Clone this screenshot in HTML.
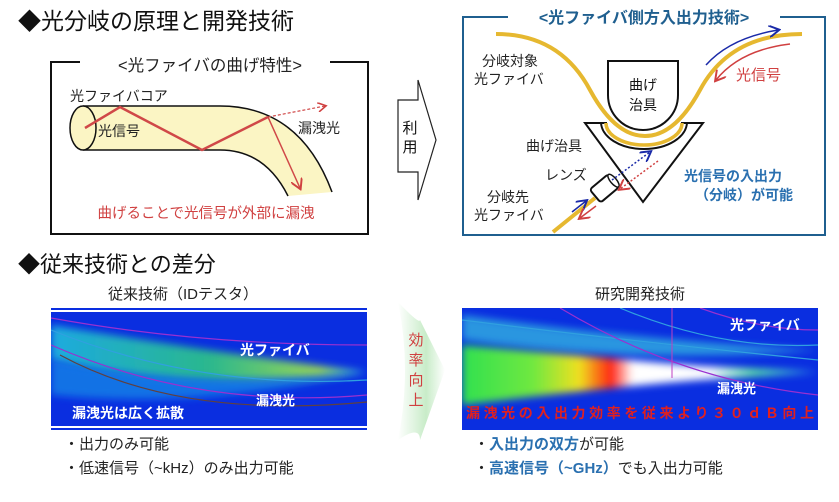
<!DOCTYPE html>
<html><head><meta charset="utf-8"><style>
html,body{margin:0;padding:0;background:#fff;}
svg{display:block;font-family:"Liberation Sans","Noto Sans CJK JP",sans-serif;}
</style></head><body>
<svg width="839" height="502" viewBox="0 0 839 502" xmlns="http://www.w3.org/2000/svg">
<defs>
<marker id="ar" markerWidth="8" markerHeight="8" refX="6" refY="4" orient="auto"><path d="M0,0 L7,4 L0,8" fill="none" stroke="#d04040" stroke-width="1.3"/></marker>
<marker id="ab" markerWidth="8" markerHeight="8" refX="6" refY="4" orient="auto"><path d="M0,0 L7,4 L0,8" fill="none" stroke="#1a2aa8" stroke-width="1.3"/></marker>
<linearGradient id="w1" x1="0" x2="1"><stop offset="0" stop-color="#20c0e0"/><stop offset="0.5" stop-color="#30d080"/><stop offset="0.85" stop-color="#b0f040"/><stop offset="1" stop-color="#40e0f0"/></linearGradient>
<linearGradient id="w2" x1="0" x2="1"><stop offset="0" stop-color="#30e050"/><stop offset="0.2" stop-color="#70e840"/><stop offset="0.33" stop-color="#f0e020"/><stop offset="0.42" stop-color="#ff2010"/><stop offset="0.48" stop-color="#ffffff"/><stop offset="0.7" stop-color="#ffffff"/><stop offset="0.82" stop-color="#60f0a0"/><stop offset="1" stop-color="#40d0f0"/></linearGradient>
<linearGradient id="ga" x1="0" x2="1"><stop offset="0" stop-color="#fff"/><stop offset="0.6" stop-color="#c8ecc8"/><stop offset="1" stop-color="#fff"/></linearGradient>
<filter id="bl" x="-10%" y="-50%" width="120%" height="200%"><feGaussianBlur stdDeviation="4"/></filter>
<clipPath id="c1"><rect x="51" y="308" width="316" height="122"/></clipPath>
<clipPath id="c2"><rect x="462" y="308" width="356" height="122"/></clipPath>
</defs>

<text x="18" y="29" font-size="23" fill="#111">◆光分岐の原理と開発技術</text>

<path d="M80,62 H51 V234 H368 V62 H330" fill="none" stroke="#111" stroke-width="2"/>
<text x="210" y="71" font-size="16.5" text-anchor="middle" fill="#222">&lt;光ファイバの曲げ特性&gt;</text>
<text x="70" y="101" font-size="14" fill="#222">光ファイバコア</text>
<path d="M83,106 H220 Q300,106 332,192 L288,196 Q265,150 220,150 H83 Z" fill="#fbf5c4"/>
<path d="M83,106 H220 Q300,106 332,192" fill="none" stroke="#111" stroke-width="1.5"/>
<path d="M83,150 H220 Q265,150 288,196" fill="none" stroke="#111" stroke-width="1.5"/>
<ellipse cx="83" cy="128" rx="13" ry="22" fill="#fbf5c4" stroke="#111" stroke-width="1.5"/>
<polyline points="85,128 120,107 202,150 268,117" fill="none" stroke="#d04848" stroke-width="2.5"/>
<line x1="268" y1="117" x2="300" y2="188" stroke="#d04848" stroke-width="1.5" marker-end="url(#ar)"/>
<line x1="268" y1="117" x2="325" y2="106" stroke="#d04848" stroke-width="1.2" stroke-dasharray="3,2" marker-end="url(#ar)"/>
<text x="98" y="136" font-size="14" fill="#222">光信号</text>
<text x="298" y="133" font-size="14" fill="#222">漏洩光</text>
<text x="206" y="218" font-size="14.5" text-anchor="middle" fill="#d04040">曲げることで光信号が外部に漏洩</text>

<polygon points="398,100 418,100 418,80 436,140 418,200 418,172 398,172" fill="#fff" stroke="#222" stroke-width="1.2"/>
<text x="410" y="133" font-size="15" text-anchor="middle" fill="#111">利</text>
<text x="410" y="152" font-size="15" text-anchor="middle" fill="#111">用</text>

<rect x="463" y="17" width="362" height="218" fill="none" stroke="#1f5f8f" stroke-width="2"/>
<rect x="508" y="8" width="272" height="20" fill="#fff"/>
<text x="644" y="23" font-size="16" font-weight="bold" text-anchor="middle" fill="#1f5f8f">&lt;光ファイバ側方入出力技術&gt;</text>
<path d="M496,34 Q560,34 590,90 Q615,136 645,136 Q675,136 700,90 Q730,34 802,34" fill="none" stroke="#e6b830" stroke-width="4"/>
<path d="M608,61 H678 V95 A35,35 0 0 1 608,95 Z" fill="#fff" stroke="#111" stroke-width="2"/>
<text x="643" y="90" font-size="14" text-anchor="middle" fill="#111">曲げ</text>
<text x="643" y="110" font-size="14" text-anchor="middle" fill="#111">治具</text>
<path d="M585,123 H606 A38,22 0 0 0 682,123 H703 L643,202 Z" fill="#fff" stroke="#111" stroke-width="2"/>
<path d="M606,123 A38,22 0 0 0 682,123" fill="none" stroke="#e6b830" stroke-width="3.5"/>
<path d="M601,122 A43,27 0 0 0 687,122" fill="none" stroke="#111" stroke-width="2"/>
<text x="482" y="66" font-size="14" fill="#222">分岐対象</text>
<text x="474" y="84" font-size="14" fill="#222">光ファイバ</text>
<text x="526" y="151" font-size="14" fill="#222">曲げ治具</text>
<text x="545" y="180" font-size="14" fill="#222">レンズ</text>
<text x="487" y="202" font-size="14" fill="#222">分岐先</text>
<text x="474" y="220" font-size="14" fill="#222">光ファイバ</text>
<text x="736" y="80" font-size="15" fill="#d04040">光信号</text>
<text x="684" y="181" font-size="14" font-weight="bold" fill="#2a70b0">光信号の入出力</text>
<text x="695" y="200" font-size="14" font-weight="bold" fill="#2a70b0">（分岐）が可能</text>
<line x1="553" y1="232" x2="595" y2="198" stroke="#e6b830" stroke-width="4"/>
<g transform="rotate(-40 604 188)"><rect x="592" y="180" width="24" height="17" rx="3" fill="#fff" stroke="#111" stroke-width="2"/><ellipse cx="616" cy="188.5" rx="3" ry="8" fill="#fff" stroke="#111" stroke-width="1.5"/></g>
<line x1="612" y1="180" x2="650" y2="152" stroke="#1a2aa8" stroke-width="1.5" stroke-dasharray="2,2" marker-end="url(#ab)"/>
<line x1="658" y1="161" x2="620" y2="189" stroke="#d04040" stroke-width="1.5" stroke-dasharray="2,2" marker-end="url(#ar)"/>
<line x1="572" y1="212" x2="586" y2="201" stroke="#1a2aa8" stroke-width="1.5" marker-end="url(#ab)"/>
<line x1="596" y1="206" x2="580" y2="218" stroke="#d04040" stroke-width="1.5" marker-end="url(#ar)"/>
<path d="M706,65 Q730,38 778,30" fill="none" stroke="#1a2aa8" stroke-width="1.5" marker-end="url(#ab)"/>
<path d="M790,44 Q740,50 716,80" fill="none" stroke="#d04040" stroke-width="1.5" marker-end="url(#ar)"/>

<text x="18" y="272" font-size="22" fill="#111">◆従来技術との差分</text>
<text x="183" y="299" font-size="15" text-anchor="middle" fill="#222">従来技術（IDテスタ）</text>
<text x="640" y="299" font-size="15" text-anchor="middle" fill="#222">研究開発技術</text>

<rect x="51" y="308" width="316" height="122" fill="#0a2ee0"/>
<g clip-path="url(#c1)">
<path d="M51,325 Q200,350 367,372 Q200,395 51,360 Z" fill="url(#w1)" opacity="0.85" filter="url(#bl)"/>
<path d="M51,360 Q200,390 367,372 Q200,410 51,395 Z" fill="#1890e8" opacity="0.7" filter="url(#bl)"/>
<path d="M51,318 Q200,345 367,345" fill="none" stroke="#9a30d0" stroke-width="1.2"/>
<path d="M51,330 Q200,390 367,380" fill="none" stroke="#30a0e0" stroke-width="1.2"/>
<path d="M51,345 Q200,410 367,395" fill="none" stroke="#9a30d0" stroke-width="1.2"/>
<path d="M60,355 Q180,420 367,402" fill="none" stroke="#604040" stroke-width="1.2"/>
</g>
<line x1="51" y1="311" x2="367" y2="311" stroke="#fff" stroke-width="2"/>
<line x1="51" y1="427" x2="367" y2="427" stroke="#fff" stroke-width="2"/>
<text x="240" y="355" font-size="14" font-weight="bold" fill="#fff">光ファイバ</text>
<text x="256" y="405" font-size="13" font-weight="bold" fill="#fff">漏洩光</text>
<text x="72" y="418" font-size="14" font-weight="bold" fill="#fff">漏洩光は広く拡散</text>

<path d="M398,302 Q420,325 420,320 L445,370 L420,440 Q420,425 398,440 Q412,370 398,302 Z" fill="url(#ga)"/>
<text x="416" y="345" font-size="15" text-anchor="middle" fill="#d04040">効</text>
<text x="416" y="365" font-size="15" text-anchor="middle" fill="#d04040">率</text>
<text x="416" y="385" font-size="15" text-anchor="middle" fill="#d04040">向</text>
<text x="416" y="405" font-size="15" text-anchor="middle" fill="#d04040">上</text>

<rect x="462" y="308" width="356" height="122" fill="#0a2ee0"/>
<g clip-path="url(#c2)">
<path d="M462,315 Q640,340 818,350 Q640,365 462,340 Z" fill="#30b0e0" opacity="0.8" filter="url(#bl)"/>
<path d="M462,345 Q600,358 700,366 L818,372 L700,380 Q600,388 462,405 Z" fill="url(#w2)" filter="url(#bl)"/>
<path d="M462,320 Q620,340 818,360" fill="none" stroke="#30a0e0" stroke-width="1.2"/>
<path d="M560,308 Q680,380 818,395" fill="none" stroke="#9a30d0" stroke-width="1.2"/>
<path d="M620,308 Q720,350 818,345" fill="none" stroke="#30a0e0" stroke-width="1.2"/>
<path d="M700,308 Q760,330 818,330" fill="none" stroke="#9a30d0" stroke-width="1.2"/>
<line x1="672" y1="308" x2="672" y2="378" stroke="#c040c0" stroke-width="1"/>
</g>
<text x="730" y="330" font-size="14" font-weight="bold" fill="#fff">光ファイバ</text>
<text x="717" y="393" font-size="13" font-weight="bold" fill="#fff">漏洩光</text>
<text x="466" y="418" font-size="14" font-weight="bold" fill="#e02020" textLength="348">漏洩光の入出力効率を従来より３０ｄＢ向上</text>

<text x="64" y="449" font-size="15" fill="#222">・出力のみ可能</text>
<text x="64" y="473" font-size="15" fill="#222">・低速信号（~kHz）のみ出力可能</text>
<text x="474" y="449" font-size="15" fill="#222">・<tspan fill="#2a70b0" font-weight="bold">入出力の双方</tspan>が可能</text>
<text x="474" y="473" font-size="15" fill="#222">・<tspan fill="#2a70b0" font-weight="bold">高速信号（~GHz）</tspan>でも入出力可能</text>
</svg>
</body></html>
